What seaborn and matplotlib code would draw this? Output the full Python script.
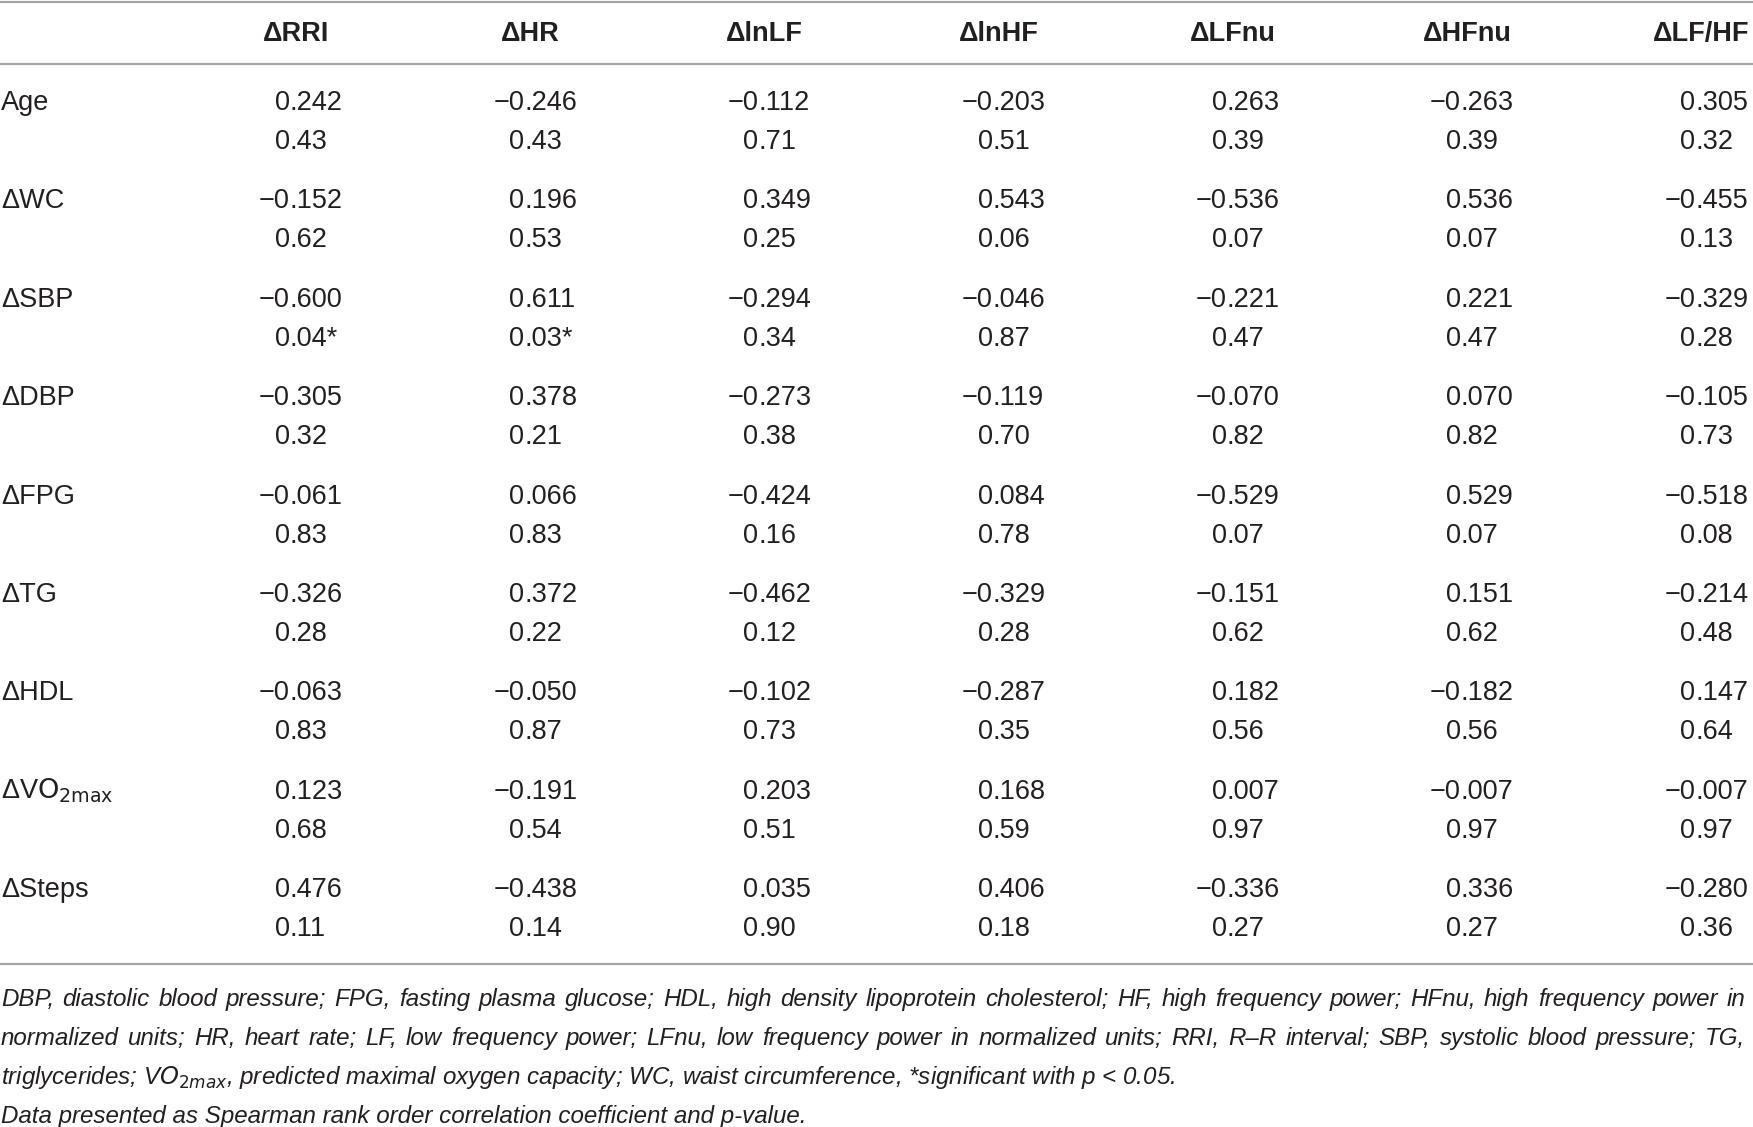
import matplotlib
matplotlib.use("Agg")
import matplotlib.pyplot as plt
import seaborn as sns

# table content
row_labels = ["Age", "ΔWC", "ΔSBP", "ΔDBP", "ΔFPG", "ΔTG", "ΔHDL",
              r"ΔV$\mathrm{O}_{\mathrm{2max}}$", "ΔSteps"]
col_labels = ["ΔRRI", "ΔHR", "ΔlnLF", "ΔlnHF", "ΔLFnu", "ΔHFnu", "ΔLF/HF"]

rri_r = [0.242, -0.152, -0.600, -0.305, -0.061, -0.326, -0.063, 0.123, 0.476]
rri_p = [0.43, 0.62, 0.04, 0.32, 0.83, 0.28, 0.83, 0.68, 0.11]
hr_r = [-0.246, 0.196, 0.611, 0.378, 0.066, 0.372, -0.050, -0.191, -0.438]
hr_p = [0.43, 0.53, 0.03, 0.21, 0.83, 0.22, 0.87, 0.54, 0.14]
lnlf_r = [-0.112, 0.349, -0.294, -0.273, -0.424, -0.462, -0.102, 0.203, 0.035]
lnlf_p = [0.71, 0.25, 0.34, 0.38, 0.16, 0.12, 0.73, 0.51, 0.90]
lnhf_r = [-0.203, 0.543, -0.046, -0.119, 0.084, -0.329, -0.287, 0.168, 0.406]
lnhf_p = [0.51, 0.06, 0.87, 0.70, 0.78, 0.28, 0.35, 0.59, 0.18]
lfnu_r = [0.263, -0.536, -0.221, -0.070, -0.529, -0.151, 0.182, 0.007, -0.336]
lfnu_p = [0.39, 0.07, 0.47, 0.82, 0.07, 0.62, 0.56, 0.97, 0.27]
hfnu_r = [-0.263, 0.536, 0.221, 0.070, 0.529, 0.151, -0.182, -0.007, 0.336]
hfnu_p = [0.39, 0.07, 0.47, 0.82, 0.07, 0.62, 0.56, 0.97, 0.27]
lfhf_r = [0.305, -0.455, -0.329, -0.105, -0.518, -0.214, 0.147, -0.007, -0.280]
lfhf_p = [0.32, 0.13, 0.28, 0.73, 0.08, 0.48, 0.64, 0.97, 0.36]

footnotes = [
    "DBP, diastolic blood pressure; FPG, fasting plasma glucose; HDL, high density lipoprotein "
    "cholesterol; HF, high frequency power; HFnu, high frequency power in",
    "normalized units; HR, heart rate; LF, low frequency power; LFnu, low frequency power in "
    "normalized units; RRI, R–R interval; SBP, systolic blood pressure; TG,",
    r"triglycerides; V$\mathit{O}_{\mathit{2max}}$, predicted maximal oxygen capacity; WC, waist "
    "circumference, *significant with p < 0.05.",
    "Data presented as Spearman rank order correlation coefficient and p-value.",
]
justified = [True, True, False, False]

coefs = [rri_r, hr_r, lnlf_r, lnhf_r, lfnu_r, hfnu_r, lfhf_r]
pvals = [rri_p, hr_p, lnlf_p, lnhf_p, lfnu_p, hfnu_p, lfhf_p]

sns.set_theme(style="white")
FONT = ["Liberation Sans Narrow", "Liberation Sans", "DejaVu Sans"]
plt.rcParams["font.family"] = FONT
plt.rcParams["mathtext.fontset"] = "custom"
plt.rcParams["mathtext.rm"] = "Liberation Sans Narrow"
plt.rcParams["mathtext.it"] = "Liberation Sans Narrow:italic"

INK = "#231f20"
RULE = "#a6a6a6"
W, H = 1753, 1127

fig = plt.figure(figsize=(W / 100, H / 100), dpi=100)
ax = fig.add_axes([0, 0, 1, 1])
ax.set_xlim(0, W)
ax.set_ylim(H, 0)
ax.axis("off")
renderer = fig.canvas.get_renderer()

# layout
dec_x0, dec_dx = 290, 234.2
head_y = 41
row_y0, row_dy, p_dy = 110, 98.4, 39
num_size = 19.5

for y in (2, 64, 964):
    ax.axhline(y, color=RULE, lw=1.6)

for j, lab in enumerate(col_labels):
    cx = dec_x0 + j * dec_dx + 6
    t = ax.text(cx, head_y, lab, ha="center", va="baseline",
                fontsize=num_size, fontweight="bold", color=INK)
    half = t.get_window_extent(renderer).width / 2
    if cx + half > W - 1:
        t.set_x(W - 1 - half)


def put_decimal(x, y, s):
    left, right = s.split(".")
    ax.text(x, y, left, ha="right", va="baseline", fontsize=num_size, color=INK)
    ax.text(x, y, "." + right, ha="left", va="baseline", fontsize=num_size, color=INK)


for i, lab in enumerate(row_labels):
    y = row_y0 + i * row_dy
    ax.text(1, y, lab, ha="left", va="baseline", fontsize=num_size, color=INK)
    for j in range(len(col_labels)):
        x = dec_x0 + j * dec_dx
        r = coefs[j][i]
        p = pvals[j][i]
        put_decimal(x, y, f"{r:.3f}".replace("-", "−"))
        put_decimal(x, y + p_dy, f"{p:.2f}" + ("*" if p < 0.05 else ""))

# footnotes
foot_y0, foot_dy = 1006, 39
foot_size = 17.4
for k, line in enumerate(footnotes):
    y = foot_y0 + k * foot_dy
    if not justified[k]:
        ax.text(1, y, line, ha="left", va="baseline", fontsize=foot_size,
                style="italic", color=INK)
        continue
    words = line.split(" ")
    arts = [ax.text(0, y, w, ha="left", va="baseline", fontsize=foot_size,
                    style="italic", color=INK) for w in words]
    widths = [a.get_window_extent(renderer).width for a in arts]
    gap = (1745 - 1 - sum(widths)) / (len(words) - 1)
    x = 1
    for a, w in zip(arts, widths):
        a.set_x(x)
        x += w + gap

fig.savefig("out.png", dpi=100, facecolor="white")
plt.close(fig)
